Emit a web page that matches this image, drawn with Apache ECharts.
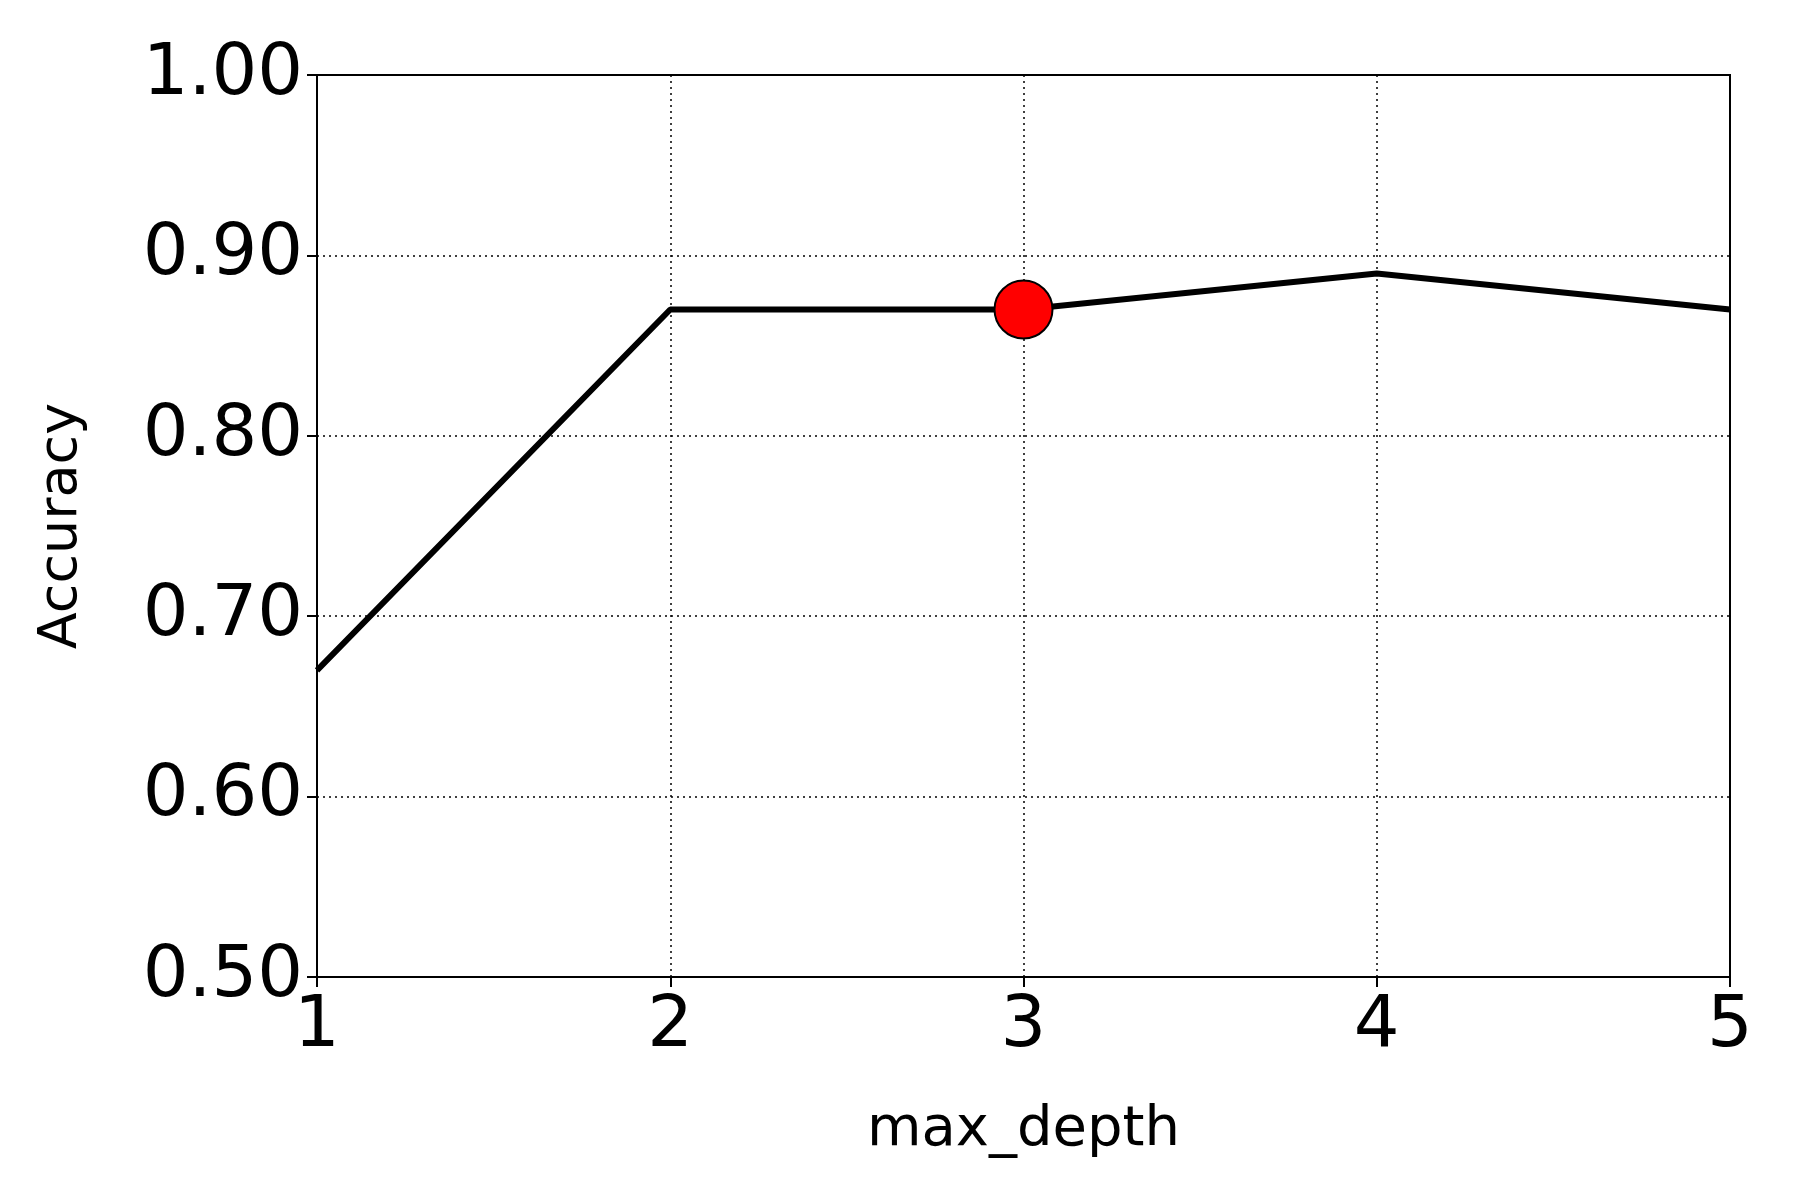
<!DOCTYPE html>
<html>
<head>
<meta charset="utf-8">
<script src="https://cdn.jsdelivr.net/npm/echarts@6/dist/echarts.min.js"></script>
<style>html,body{margin:0;background:#fff}#chart{width:1800px;height:1200px}</style>
</head>
<body>
<div id="chart"></div>
<script>
var depths = [1, 2, 3, 4, 5];
var accuracy = [0.67, 0.87, 0.87, 0.89, 0.87];
var bestIndex = 2;

var chart = echarts.init(document.getElementById('chart'));
var font = 'DejaVu Sans';
chart.setOption({
    animation: false,
    grid: {left: 317, right: 70, top: 75, bottom: 223, show: true, borderColor: '#000', borderWidth: 2},
    xAxis: {
        type: 'value', min: 1, max: 5, interval: 1,
        name: 'max_depth', nameLocation: 'middle', nameGap: 125,
        nameTextStyle: {fontFamily: font, fontSize: 56, color: '#000'},
        axisLine: {lineStyle: {color: '#000', width: 2}},
        axisTick: {length: 10, lineStyle: {color: '#000', width: 2}},
        axisLabel: {fontFamily: font, fontSize: 72, color: '#000', margin: 14},
        splitLine: {lineStyle: {color: '#000', type: [2, 4], width: 1.5}}
    },
    yAxis: {
        type: 'value', min: 0.5, max: 1, interval: 0.1,
        name: 'Accuracy', nameLocation: 'middle', nameGap: 228,
        nameTextStyle: {fontFamily: font, fontSize: 54, color: '#000'},
        axisLine: {show: true, lineStyle: {color: '#000', width: 2}},
        axisTick: {show: true, length: 10, lineStyle: {color: '#000', width: 2}},
        axisLabel: {fontFamily: font, fontSize: 72, color: '#000', margin: 14,
            formatter: function (v) { return v.toFixed(2); }},
        splitLine: {lineStyle: {color: '#000', type: [2, 4], width: 1.5}}
    },
    series: [{
        type: 'line',
        data: depths.map(function (d, i) { return [d, accuracy[i]]; }),
        showSymbol: false,
        lineStyle: {color: '#000', width: 6}
    }, {
        type: 'scatter',
        data: [[depths[bestIndex], accuracy[bestIndex]]],
        symbolSize: 58,
        itemStyle: {color: '#ff0000', borderColor: '#000', borderWidth: 2, opacity: 1},
        z: 5
    }]
});
</script>
</body>
</html>
